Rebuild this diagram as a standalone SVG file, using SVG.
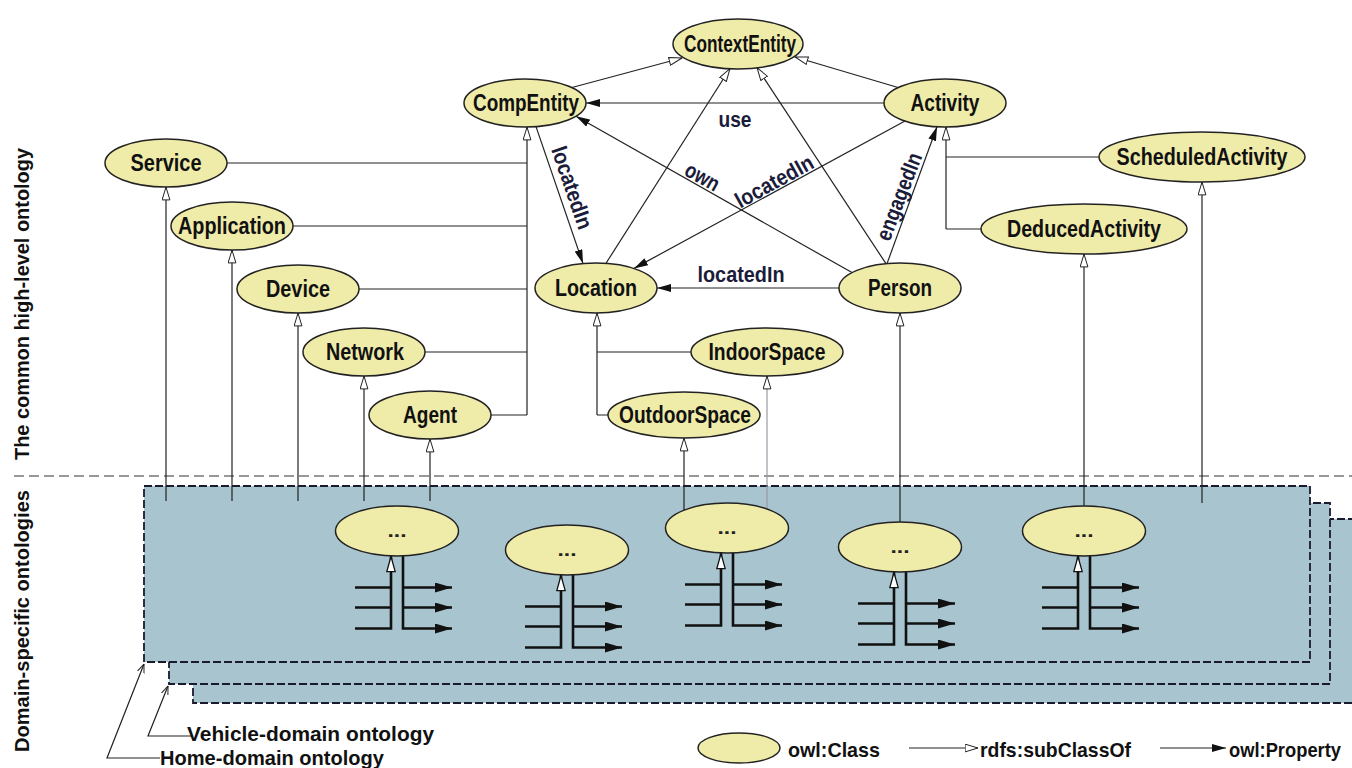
<svg xmlns="http://www.w3.org/2000/svg" width="1352" height="768" viewBox="0 0 1352 768">
  <style>
    .cls ellipse { fill: #efeba9; stroke: #222; stroke-width: 1.5; }
    .lbl { font-family: "Liberation Sans Narrow", "Liberation Sans", Arial, sans-serif; font-weight: bold; font-size: 23px; fill: #111; text-anchor: middle; }
    .elbl { font-family: "Liberation Sans Narrow", "Liberation Sans", Arial, sans-serif; font-weight: bold; font-size: 22px; fill: #1b1b3a; text-anchor: middle; }
    .side { font-family: "Liberation Sans", Arial, sans-serif; font-weight: bold; font-size: 20px; fill: #111; text-anchor: middle; }
    .leg { font-family: "Liberation Sans Narrow", "Liberation Sans", Arial, sans-serif; font-weight: bold; font-size: 21px; fill: #111; }
    .dots { font-family: "Liberation Sans", Arial, sans-serif; font-weight: bold; font-size: 18px; fill: #222; text-anchor: middle; }
    .ln { stroke: #222; stroke-width: 1.2; fill: none; }
    .sub { marker-end: url(#sub); }
    .prop { marker-end: url(#prop); }
    .faint { stroke: #9a9aa6; }
    .comb { stroke: #111; stroke-width: 2.6; fill: none; }
    .box { fill: #a8c4ce; stroke: #1a1a2e; stroke-width: 1.8; stroke-dasharray: 8 3; }
    .sep { stroke: #333; stroke-width: 1.2; stroke-dasharray: 10 5; fill: none; }
  </style>
  <defs>
    <marker id="sub" viewBox="0 0 14 9" refX="13.5" refY="4.5" markerWidth="14" markerHeight="9" markerUnits="userSpaceOnUse" orient="auto">
      <path d="M0.6,0.6 L13.4,4.5 L0.6,8.4 Z" fill="#fff" stroke="#222" stroke-width="1"/>
    </marker>
    <marker id="prop" viewBox="0 0 14 8" refX="14" refY="4" markerWidth="14" markerHeight="8" markerUnits="userSpaceOnUse" orient="auto">
      <path d="M0,0 L14,4 L0,8 Z" fill="#111"/>
    </marker>
    <marker id="sub2" viewBox="0 0 17 10" refX="16.5" refY="5" markerWidth="17" markerHeight="10" markerUnits="userSpaceOnUse" orient="auto">
      <path d="M0.8,0.8 L16,5 L0.8,9.2 Z" fill="#fff" stroke="#111" stroke-width="1.3"/>
    </marker>
    <marker id="prop2" viewBox="0 0 17 10" refX="17" refY="5" markerWidth="17" markerHeight="10" markerUnits="userSpaceOnUse" orient="auto">
      <path d="M0,0 L17,5 L0,10 Z" fill="#111"/>
    </marker>
    <marker id="lead" viewBox="0 0 9 8" refX="9" refY="4" markerWidth="9" markerHeight="8" markerUnits="userSpaceOnUse" orient="auto">
      <path d="M0,0.5 L9,4 L0,7.5" fill="none" stroke="#222" stroke-width="1"/>
    </marker>
  </defs>

  <!-- side captions -->
  <text class="side" transform="translate(29 304) rotate(-90)" textLength="312" lengthAdjust="spacingAndGlyphs">The common high-level ontology</text>
  <text class="side" transform="translate(29 621) rotate(-90)" textLength="262" lengthAdjust="spacingAndGlyphs">Domain-specific ontologies</text>

  <!-- boundary between the two layers -->
  <path class="sep" d="M14,476 H1352"/>

  <!-- stacked domain ontology sheets (back to front) -->
  <g id="domain-sheets">
    <rect class="box" x="193" y="519" width="1175" height="184"/>
    <rect class="box" x="169" y="503" width="1161" height="181"/>
    <rect class="box" x="144" y="486" width="1166" height="176"/>
  </g>

  <!-- connectors -->
  <g id="connectors">
    <!-- subclasses of ContextEntity -->
    <path class="ln sub" d="M572,87.5 L682,58"/>
    <path class="ln sub" d="M898,87.5 L795,57"/>
    <path class="ln sub" d="M606,263.3 L730,68.5"/>
    <path class="ln sub" d="M886,263.7 L757,67.6"/>

    <!-- properties -->
    <path class="ln prop" d="M884,103 H586"/>
    <path class="ln prop" d="M536,126.6 L583,263.6"/>
    <path class="ln prop" d="M852,272.6 L576,116.2"/>
    <path class="ln prop" d="M905,121 L634,268.4"/>
    <path class="ln prop" d="M887,263.6 L937,126.8"/>
    <path class="ln prop" d="M839,288 H657"/>

    <!-- CompEntity hierarchy -->
    <path class="ln sub" d="M527,415 V127"/>
    <path class="ln" d="M227,163 H527 M293,226 H527 M359,289 H527 M425,352 H527 M491,415 H527"/>

    <!-- Location hierarchy -->
    <path class="ln sub" d="M597,415 V313"/>
    <path class="ln" d="M597,352 H691 M597,415 H608"/>

    <!-- Activity hierarchy -->
    <path class="ln sub" d="M946,229 V127"/>
    <path class="ln" d="M946,157 H1099 M946,229 H981"/>

    <!-- domain classes to the common classes -->
    <path class="ln sub" d="M166,501 V187"/>
    <path class="ln sub" d="M232,501 V250"/>
    <path class="ln sub" d="M298,501 V313"/>
    <path class="ln sub" d="M364,501 V376"/>
    <path class="ln sub" d="M430,501 V439"/>
    <path class="ln sub" d="M684,510 V438"/>
    <path class="ln sub faint" d="M767,509 V376"/>
    <path class="ln sub" d="M900,522 V313"/>
    <path class="ln sub" d="M1084,506 V254"/>
    <path class="ln sub" d="M1202,503 V182"/>

    <!-- property / subclass stubs inside the domain sheet -->
    <path class="comb" marker-end="url(#sub2)" d="M355,587.5H391M355,607.5H391M355,628.5H391V556"/>
    <path class="comb" marker-end="url(#prop2)" d="M403,556V628.5H452"/>
    <path class="comb" marker-end="url(#prop2)" d="M403,587.5H452"/>
    <path class="comb" marker-end="url(#prop2)" d="M403,607.5H452"/>

    <path class="comb" marker-end="url(#sub2)" d="M525,606.5H561M525,626.5H561M525,647.5H561V575"/>
    <path class="comb" marker-end="url(#prop2)" d="M573,575V647.5H622"/>
    <path class="comb" marker-end="url(#prop2)" d="M573,606.5H622"/>
    <path class="comb" marker-end="url(#prop2)" d="M573,626.5H622"/>

    <path class="comb" marker-end="url(#sub2)" d="M685,584.5H721M685,604.5H721M685,625.5H721V553"/>
    <path class="comb" marker-end="url(#prop2)" d="M733,553V625.5H782"/>
    <path class="comb" marker-end="url(#prop2)" d="M733,584.5H782"/>
    <path class="comb" marker-end="url(#prop2)" d="M733,604.5H782"/>

    <path class="comb" marker-end="url(#sub2)" d="M858,603.5H894M858,623.5H894M858,644.5H894V572"/>
    <path class="comb" marker-end="url(#prop2)" d="M906,572V644.5H955"/>
    <path class="comb" marker-end="url(#prop2)" d="M906,603.5H955"/>
    <path class="comb" marker-end="url(#prop2)" d="M906,623.5H955"/>

    <path class="comb" marker-end="url(#sub2)" d="M1042,587.5H1078M1042,607.5H1078M1042,628.5H1078V556"/>
    <path class="comb" marker-end="url(#prop2)" d="M1090,556V628.5H1139"/>
    <path class="comb" marker-end="url(#prop2)" d="M1090,587.5H1139"/>
    <path class="comb" marker-end="url(#prop2)" d="M1090,607.5H1139"/>

    <!-- leaders to the sheets -->
    <path class="ln" marker-end="url(#lead)" d="M160,758 H107 L144,664"/>
    <path class="ln" marker-end="url(#lead)" d="M192,736 H148 L168,686"/>
  </g>

  <!-- property labels -->
  <g id="property-labels">
    <text class="elbl" x="735" y="127" textLength="33" lengthAdjust="spacingAndGlyphs">use</text>
    <text class="elbl" x="741" y="282" textLength="87" lengthAdjust="spacingAndGlyphs">locatedIn</text>
    <text class="elbl" transform="translate(572.5 187.5) rotate(71)" y="8" textLength="86" lengthAdjust="spacingAndGlyphs">locatedIn</text>
    <text class="elbl" transform="translate(701.5 178.5) rotate(29)" y="5.5" textLength="36" lengthAdjust="spacingAndGlyphs">own</text>
    <text class="elbl" transform="translate(774 181) rotate(-29)" y="8" textLength="86" lengthAdjust="spacingAndGlyphs">locatedIn</text>
    <text class="elbl" transform="translate(899 196.5) rotate(-69)" y="7.5" textLength="92" lengthAdjust="spacingAndGlyphs">engagedIn</text>
  </g>

  <!-- common high-level classes -->
  <g id="ContextEntity" class="cls"><ellipse cx="738" cy="44" rx="65" ry="25"/><text class="lbl" x="740" y="52" textLength="112" lengthAdjust="spacingAndGlyphs">ContextEntity</text></g>
  <g id="CompEntity" class="cls"><ellipse cx="525" cy="103" rx="61" ry="24"/><text class="lbl" x="526" y="111" textLength="106" lengthAdjust="spacingAndGlyphs">CompEntity</text></g>
  <g id="Activity" class="cls"><ellipse cx="945" cy="103" rx="61" ry="24"/><text class="lbl" x="945" y="111" textLength="69" lengthAdjust="spacingAndGlyphs">Activity</text></g>
  <g id="Service" class="cls"><ellipse cx="166" cy="163" rx="61" ry="24"/><text class="lbl" x="166" y="171" textLength="71" lengthAdjust="spacingAndGlyphs">Service</text></g>
  <g id="Application" class="cls"><ellipse cx="232" cy="226" rx="61" ry="24"/><text class="lbl" x="232" y="234" textLength="108" lengthAdjust="spacingAndGlyphs">Application</text></g>
  <g id="Device" class="cls"><ellipse cx="298" cy="289" rx="61" ry="24"/><text class="lbl" x="298" y="297" textLength="64" lengthAdjust="spacingAndGlyphs">Device</text></g>
  <g id="Network" class="cls"><ellipse cx="364" cy="352" rx="61" ry="24"/><text class="lbl" x="365" y="360" textLength="78" lengthAdjust="spacingAndGlyphs">Network</text></g>
  <g id="Agent" class="cls"><ellipse cx="430" cy="415" rx="61" ry="24"/><text class="lbl" x="430" y="423" textLength="54" lengthAdjust="spacingAndGlyphs">Agent</text></g>
  <g id="Location" class="cls"><ellipse cx="596" cy="288" rx="61" ry="25"/><text class="lbl" x="596" y="296" textLength="82" lengthAdjust="spacingAndGlyphs">Location</text></g>
  <g id="Person" class="cls"><ellipse cx="900" cy="288" rx="61" ry="25"/><text class="lbl" x="900" y="296" textLength="64" lengthAdjust="spacingAndGlyphs">Person</text></g>
  <g id="IndoorSpace" class="cls"><ellipse cx="767" cy="352" rx="76" ry="24"/><text class="lbl" x="767" y="360" textLength="117" lengthAdjust="spacingAndGlyphs">IndoorSpace</text></g>
  <g id="OutdoorSpace" class="cls"><ellipse cx="684" cy="415" rx="76" ry="23"/><text class="lbl" x="685" y="423" textLength="132" lengthAdjust="spacingAndGlyphs">OutdoorSpace</text></g>
  <g id="ScheduledActivity" class="cls"><ellipse cx="1202" cy="157" rx="103" ry="25"/><text class="lbl" x="1202" y="165" textLength="171" lengthAdjust="spacingAndGlyphs">ScheduledActivity</text></g>
  <g id="DeducedActivity" class="cls"><ellipse cx="1084" cy="229" rx="103" ry="25"/><text class="lbl" x="1084" y="237" textLength="154" lengthAdjust="spacingAndGlyphs">DeducedActivity</text></g>

  <!-- domain-specific classes -->
  <g id="domain-class-1" class="cls"><ellipse cx="397" cy="531" rx="61.5" ry="25"/><text class="dots" x="397" y="537" textLength="19" lengthAdjust="spacingAndGlyphs">...</text></g>
  <g id="domain-class-2" class="cls"><ellipse cx="567" cy="550" rx="61.5" ry="25"/><text class="dots" x="567" y="556" textLength="19" lengthAdjust="spacingAndGlyphs">...</text></g>
  <g id="domain-class-3" class="cls"><ellipse cx="727" cy="528" rx="61.5" ry="25"/><text class="dots" x="727" y="534" textLength="19" lengthAdjust="spacingAndGlyphs">...</text></g>
  <g id="domain-class-4" class="cls"><ellipse cx="900" cy="547" rx="61.5" ry="25"/><text class="dots" x="900" y="553" textLength="19" lengthAdjust="spacingAndGlyphs">...</text></g>
  <g id="domain-class-5" class="cls"><ellipse cx="1084" cy="531" rx="61.5" ry="25"/><text class="dots" x="1084" y="537" textLength="19" lengthAdjust="spacingAndGlyphs">...</text></g>

  <!-- sheet names -->
  <text class="leg" x="187" y="741" textLength="247" lengthAdjust="spacingAndGlyphs">Vehicle-domain ontology</text>
  <text class="leg" x="160" y="765" textLength="224" lengthAdjust="spacingAndGlyphs">Home-domain ontology</text>

  <!-- legend -->
  <g id="legend">
    <g class="cls"><ellipse cx="739" cy="748" rx="41" ry="15"/></g>
    <text class="leg" x="788" y="757" textLength="92" lengthAdjust="spacingAndGlyphs">owl:Class</text>
    <path class="ln sub" d="M909,748 H978"/>
    <text class="leg" x="980" y="757" textLength="151" lengthAdjust="spacingAndGlyphs">rdfs:subClassOf</text>
    <path class="ln prop" d="M1160,748 H1226"/>
    <text class="leg" x="1229" y="757" font-size="19" textLength="112" lengthAdjust="spacingAndGlyphs">owl:Property</text>
  </g>
</svg>
